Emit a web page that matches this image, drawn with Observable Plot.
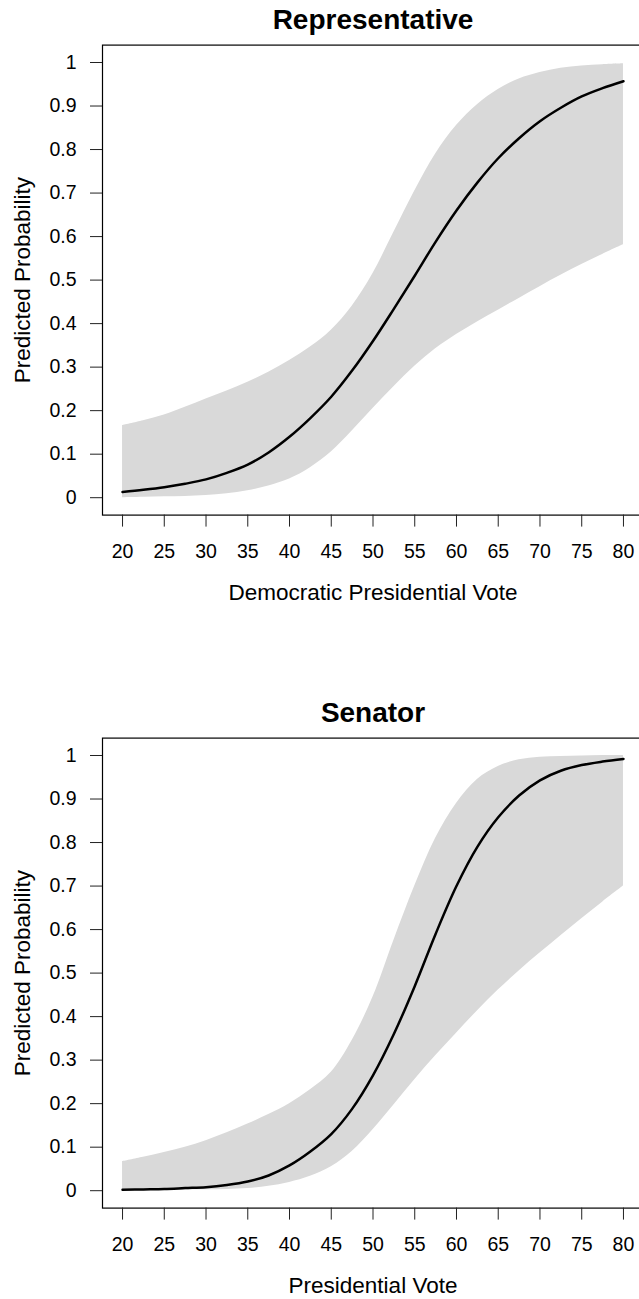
<!DOCTYPE html>
<html>
<head>
<meta charset="utf-8">
<script src="https://cdn.jsdelivr.net/npm/d3@7"></script>
<script src="https://cdn.jsdelivr.net/npm/@observablehq/plot@0.6"></script>
<style>
  html, body { margin: 0; padding: 0; background: white; }
  #chart svg { display: block; }
</style>
</head>
<body>
<div id="chart"></div>
<script>
// ---- data ----
const votes = [20, 22.5, 25, 27.5, 30, 32.5, 35, 37.5, 40, 42.5, 45, 47.5, 50,
               52.5, 55, 57.5, 60, 62.5, 65, 67.5, 70, 72.5, 75, 77.5, 80];

const repFit   = [0.013, 0.018, 0.024, 0.032, 0.042, 0.057, 0.076, 0.104, 0.140, 0.183, 0.232, 0.292, 0.360,
                  0.434, 0.510, 0.588, 0.660, 0.724, 0.780, 0.826, 0.865, 0.896, 0.922, 0.941, 0.957];
const repLower = [0.000, 0.001, 0.002, 0.003, 0.005, 0.009, 0.016, 0.027, 0.043, 0.069, 0.105, 0.153, 0.205,
                  0.255, 0.302, 0.342, 0.375, 0.404, 0.431, 0.458, 0.485, 0.511, 0.536, 0.559, 0.581];
const repUpper = [0.166, 0.177, 0.190, 0.208, 0.227, 0.245, 0.265, 0.288, 0.315, 0.346, 0.385, 0.440, 0.515,
                  0.610, 0.705, 0.790, 0.855, 0.903, 0.938, 0.962, 0.977, 0.987, 0.992, 0.995, 0.997];

const senFit   = [0.002, 0.003, 0.004, 0.006, 0.008, 0.013, 0.021, 0.035, 0.058, 0.090, 0.130, 0.188, 0.265,
                  0.360, 0.470, 0.590, 0.700, 0.790, 0.858, 0.908, 0.943, 0.965, 0.978, 0.986, 0.992];
const senLower = [0.000, 0.0005, 0.001, 0.0015, 0.002, 0.003, 0.005, 0.010, 0.019, 0.033, 0.055, 0.090, 0.140,
                  0.197, 0.255, 0.310, 0.362, 0.413, 0.461, 0.505, 0.546, 0.586, 0.625, 0.663, 0.700];
const senUpper = [0.067, 0.077, 0.088, 0.100, 0.115, 0.133, 0.153, 0.175, 0.200, 0.232, 0.272, 0.345, 0.445,
                  0.575, 0.700, 0.810, 0.890, 0.945, 0.975, 0.990, 0.996, 0.998, 0.999, 1.000, 1.000];

const xTicks = [20, 25, 30, 35, 40, 45, 50, 55, 60, 65, 70, 75, 80];
const yTicks = [0, 0.1, 0.2, 0.3, 0.4, 0.5, 0.6, 0.7, 0.8, 0.9, 1];

const titles = ["Representative", "Senator"];
const xLabels = ["Democratic Presidential Vote", "Presidential Vote"];
const yLabel = "Predicted Probability";

// ---- drawing ----
const FONT = "'Liberation Sans', Arial, Helvetica, sans-serif";

function panel(title, xlabel, fit, lower, upper, height) {
  const rows = votes.map((v, i) => ({x: v, p: fit[i], lo: lower[i], hi: upper[i]}));
  const marginTop = 44.6;
  const plotBottom = 514.6;
  return Plot.plot({
    width: 639,
    height,
    marginLeft: 102,
    marginRight: -4,
    marginTop,
    marginBottom: height - plotBottom,
    x: {domain: [17.6, 82.4]},
    y: {domain: [-0.04, 1.04]},
    style: {fontFamily: FONT, fontSize: "19.5px", color: "black", background: "white"},
    marks: [
      Plot.areaY(rows, {x: "x", y1: "lo", y2: "hi", fill: "#d9d9d9", curve: "catmull-rom"}),
      Plot.line(rows, {x: "x", y: "p", stroke: "black", strokeWidth: 2.5, curve: "catmull-rom"}),
      Plot.frame({stroke: "black", strokeWidth: 1.2}),
      Plot.axisX(xTicks, {tickSize: 12, tickPadding: 17.5, label: null, fontSize: 19.5, stroke: "#222"}),
      Plot.axisY(yTicks, {tickSize: 12, tickPadding: 14, label: null, fontSize: 19.5,
                          tickFormat: d => String(+d.toFixed(1)), stroke: "#222"}),
      Plot.text([title], {frameAnchor: "top", dy: -25, lineAnchor: "middle", textAnchor: "middle",
                          fontWeight: "bold", fontSize: 28}),
      Plot.text([xlabel], {frameAnchor: "bottom", dy: 78, lineAnchor: "middle", textAnchor: "middle",
                           fontSize: 22.5}),
      Plot.text([yLabel], {frameAnchor: "left", dx: -80, rotate: -90, lineAnchor: "middle",
                           textAnchor: "middle", fontSize: 22.5})
    ]
  });
}

const chart = document.getElementById("chart");
chart.appendChild(panel(titles[0], xLabels[0], repFit, repLower, repUpper, 693));
chart.appendChild(panel(titles[1], xLabels[1], senFit, senLower, senUpper, 606));
</script>
</body>
</html>
